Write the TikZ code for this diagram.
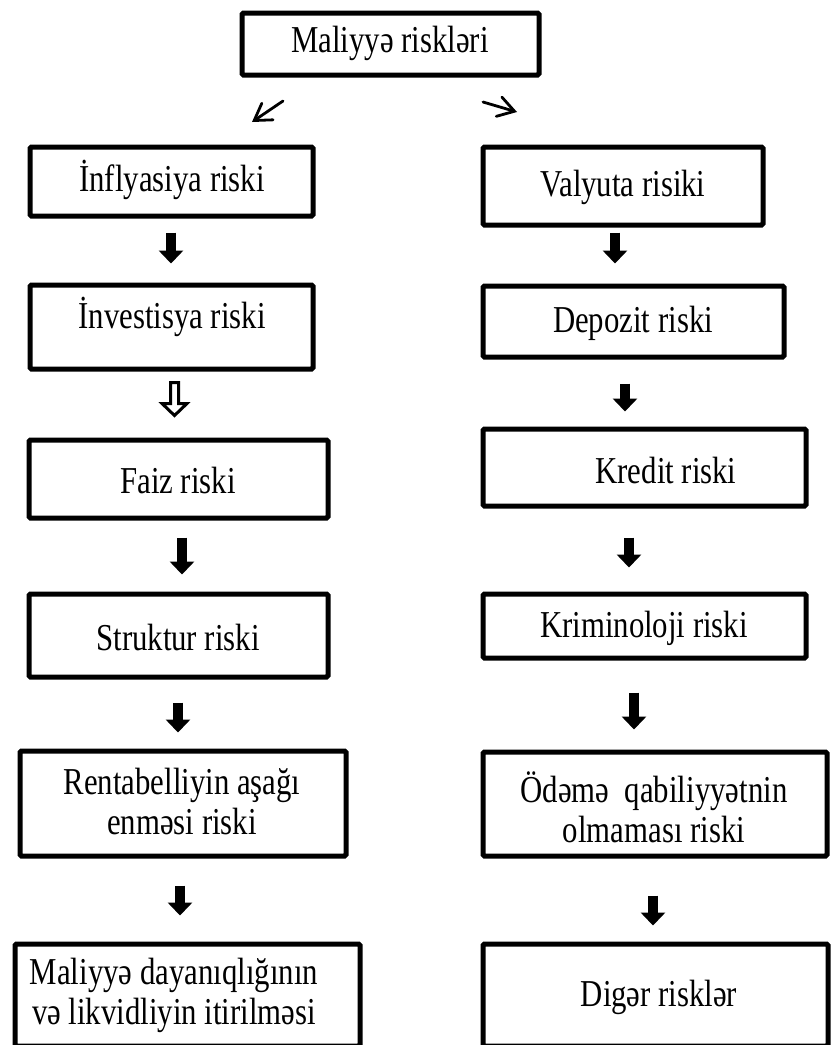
\documentclass[tikz,border=0pt]{standalone}
\usepackage{fontspec}
\setmainfont{Liberation Serif}[FakeStretch=0.81]
\usetikzlibrary{arrows.meta,calc}
\tikzset{
  box/.style={draw=black, line width=5pt, rounded corners=1.5pt, inner sep=0pt, fill=none},
  txt/.style={inner sep=0pt, align=center, font=\fontsize{38}{40}\selectfont},
  blk/.style={line width=10pt, -{Triangle[length=13pt,width=24pt]}},
  thin/.style={line width=2.8pt, line cap=round, -{Straight Barb[length=16pt,width=20pt,line cap=round]}},
  hollow/.style={draw=black, line width=3pt, fill=white, line join=miter}
}
\begin{document}
\begin{tikzpicture}[x=1pt,y=-1pt]
\useasboundingbox (0,0) rectangle (832,1045);
% top box
\node[box, minimum width=297pt, minimum height=62pt] (top) at (390.5,44) {};
\node[txt] (ttop) at (390,43) {Maliyyə riskləri};
% left column
\node[box, minimum width=283pt, minimum height=69pt] (L1) at (171.5,181.5) {};
\node[txt] (tL1) at (172,180) {İnflyasiya riski};
\node[box, minimum width=283pt, minimum height=84pt] (L2) at (171.5,327) {};
\node[txt] (tL2) at (172,317) {İnvestisya riski};
\node[box, minimum width=299pt, minimum height=78pt] (L3) at (178.5,479) {};
\node[txt] (tL3) at (178,480) {Faiz riski};
\node[box, minimum width=299pt, minimum height=83pt] (L4) at (178.5,635.5) {};
\node[txt] (tL4) at (178,637) {Struktur riski};
\node[box, minimum width=326pt, minimum height=105pt] (L5) at (183,803.5) {};
\node[txt] (tL5) at (182,801) {Rentabelliyin aşağı\\enməsi riski};
\node[box, minimum width=345pt, minimum height=102pt] (L6) at (187.5,995) {};
\node[txt] (tL6) at (174,995) {Maliyyə dayanıqlığının\\və likvidliyin itirilməsi};
% right column
\node[box, minimum width=280pt, minimum height=78pt] (R1) at (623,186) {};
\node[txt] (tR1) at (623,187) {Valyuta risiki};
\node[box, minimum width=301pt, minimum height=71pt] (R2) at (633.5,321.5) {};
\node[txt] (tR2) at (633,323) {Depozit riski};
\node[box, minimum width=323pt, minimum height=77pt] (R3) at (644.5,467.5) {};
\node[txt] (tR3) at (666,470) {Kredit riski};
\node[box, minimum width=323pt, minimum height=64pt] (R4) at (644.5,626) {};
\node[txt] (tR4) at (644,628) {Kriminoloji riski};
\node[box, minimum width=344pt, minimum height=104pt] (R5) at (655,804) {};
\node[txt] (tR5) at (654,807) {Ödəmə~ qabiliyyətnin\\olmaması riski};
\node[box, minimum width=345pt, minimum height=102pt] (R6) at (655.5,995) {};
\node[txt] (tR6) at (659,997) {Digər risklər};
% x positions of the block arrows
\coordinate (xa1) at (171,0);
\coordinate (xa2) at (174.5,0);
\coordinate (xa3) at (182,0);
\coordinate (xa4) at (178,0);
\coordinate (xa5) at (180,0);
\coordinate (xb1) at (615,0);
\coordinate (xb2) at (625,0);
\coordinate (xb3) at (629,0);
\coordinate (xb4) at (634,0);
\coordinate (xb5) at (653,0);
% left arrows
\draw[blk, shorten <=14pt, shorten >=19pt] (L1.south -| xa1) -- (L2.north -| xa1);
\coordinate (h0) at ($(L2.south -| xa2)+(0,11)$);
\draw[hollow] ($(h0)+(-4,0)$) -- ($(h0)+(4,0)$) -- ($(h0)+(4,21)$) -- ($(h0)+(12.5,21)$)
  -- ($(h0)+(0,33)$) -- ($(h0)+(-12.5,21)$) -- ($(h0)+(-4,21)$) -- cycle;
\draw[blk, shorten <=17pt, shorten >=17pt] (L3.south -| xa3) -- (L4.north -| xa3);
\draw[blk, shorten <=23pt, shorten >=16pt] (L4.south -| xa4) -- (L5.north -| xa4);
\draw[blk, shorten <=27pt, shorten >=26pt] (L5.south -| xa5) -- (L6.north -| xa5);
% right arrows
\draw[blk, shorten <=5pt, shorten >=20pt] (R1.south -| xb1) -- (R2.north -| xb1);
\draw[blk, shorten <=24pt, shorten >=15pt] (R2.south -| xb2) -- (R3.north -| xb2);
\draw[blk, shorten <=29pt, shorten >=24pt] (R3.south -| xb3) -- (R4.north -| xb3);
\draw[blk, shorten <=32pt, shorten >=20pt] (R4.south -| xb4) -- (R5.north -| xb4);
\draw[blk, shorten <=37pt, shorten >=16pt] (R5.south -| xb5) -- (R6.north -| xb5);
% top diagonal arrows
\coordinate (dl0) at (283,101);
\coordinate (dl1) at (252,122);
\coordinate (dr0) at (483,102);
\coordinate (dr1) at (517,112);
\draw[thin] (dl0) -- (dl1);
\draw[thin] (dr0) -- (dr1);
\end{tikzpicture}
\end{document}
